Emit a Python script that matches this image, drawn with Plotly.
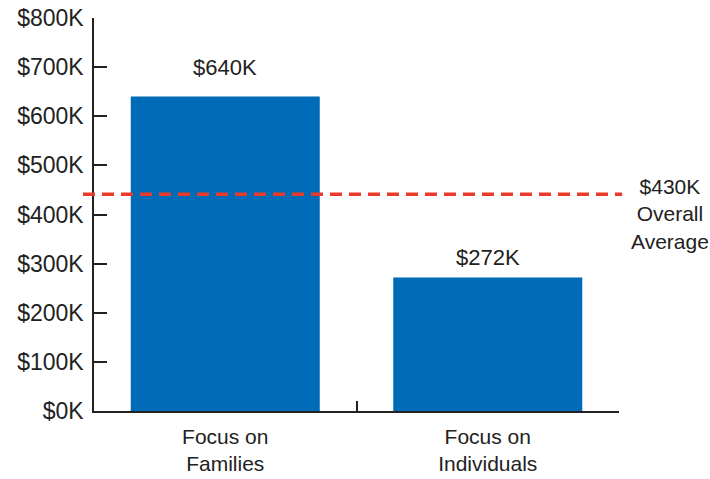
import plotly.graph_objects as go

categories = ["Focus on<br>Families", "Focus on<br>Individuals"]
values = [640, 272]
value_labels = ["$640K", "$272K"]
label_shifts = [15, 5]
avg_line_value = 441
avg_label = "$430K<br>Overall<br>Average"
y_ticks = [0, 100, 200, 300, 400, 500, 600, 700, 800]
y_tick_labels = ["$0K", "$100K", "$200K", "$300K", "$400K", "$500K", "$600K", "$700K", "$800K"]

FONT = "Liberation Sans, Arial, Helvetica, sans-serif"
TXT = "#222222"

fig = go.Figure()
fig.add_trace(go.Bar(x=categories, y=values, marker=dict(color="#006bb6", line=dict(width=0)),
                     hoverinfo="skip"))

for c, v, t, s in zip(categories, values, value_labels, label_shifts):
    fig.add_annotation(x=c, y=v, text=t, showarrow=False, yanchor="bottom", yshift=s,
                       font=dict(size=22, color=TXT, family=FONT))

fig.add_shape(type="line", xref="paper", yref="y", x0=-0.021, x1=1.006,
              y0=avg_line_value, y1=avg_line_value,
              line=dict(color="#ea3a2a", width=3.5, dash="12px,7px"))
fig.add_annotation(xref="paper", yref="y", x=1.097, y=avg_line_value, text=avg_label,
                   showarrow=False, xanchor="center", yanchor="middle", yshift=-20,
                   font=dict(size=21, color=TXT, family=FONT), align="center")

fig.update_layout(
    width=710, height=479,
    margin=dict(l=94, r=91, t=18, b=68, autoexpand=False),
    plot_bgcolor="white", paper_bgcolor="white",
    bargap=0.28,
    showlegend=False,
    font=dict(family=FONT, size=21, color=TXT),
)
fig.update_xaxes(showline=True, linecolor="#222", linewidth=1.5, ticks="inside",
                 tickson="boundaries", ticklen=10, tickwidth=1.5, tickcolor="#222",
                 showgrid=False, automargin=False, ticklabelstandoff=6,
                 tickfont=dict(size=21, color=TXT))
fig.update_yaxes(range=[0, 800], tickvals=y_ticks, ticktext=y_tick_labels,
                 showline=True, linecolor="#222", linewidth=1.5, ticks="inside",
                 ticklen=13, tickwidth=1.5, tickcolor="#222", showgrid=False,
                 zeroline=False, automargin=False, ticklabelstandoff=4,
                 ticklabeloverflow="allow", tickfont=dict(size=23, color=TXT))

fig.write_html("out.html", config={"displayModeBar": False},
               post_script="document.body.style.margin='0';")
